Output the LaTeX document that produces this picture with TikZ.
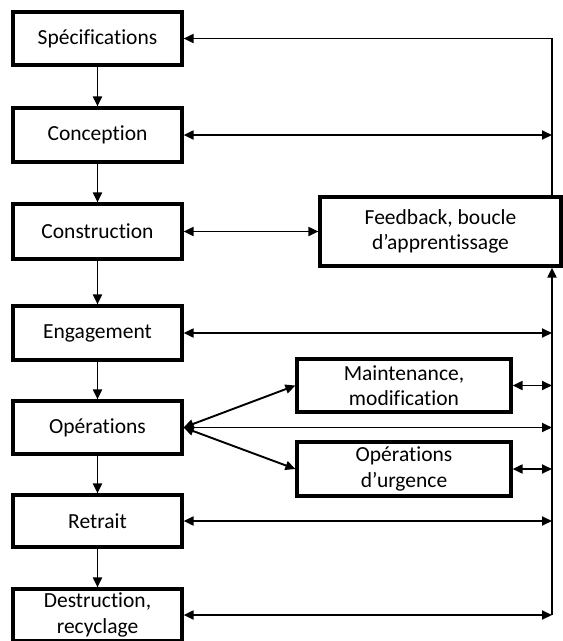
\documentclass[tikz,border=0pt]{standalone}
\usepackage{fontspec}
\setmainfont{Carlito}[Ligatures=NoCommon]
\usetikzlibrary{arrows.meta}
\begin{document}
\begin{tikzpicture}[x=1pt,y=-1pt,
  box/.style={draw,line width=3.2pt,inner sep=0pt,align=center,
    font=\fontsize{21.5}{25.5}\selectfont},
  lbox/.style={box,minimum width=169pt},
  con/.style={line width=1.9pt},
  one/.style={con,-{Triangle[length=10pt,width=9pt]}},
  two/.style={con,{Triangle[length=10pt,width=9pt]}-{Triangle[length=10pt,width=9pt]}}]
\useasboundingbox (0,0) rectangle (563,641);
\node[lbox,minimum height=53pt] (spec) at (97.5,38.5) {Spécifications};
\node[lbox,minimum height=54pt] (conc) at (97.5,135) {Conception};
\node[lbox,minimum height=55pt] (cons) at (97.5,231.5) {Construction};
\node[lbox,minimum height=54pt] (eng) at (97.5,333) {Engagement};
\node[lbox,minimum height=53pt] (ops) at (97.5,427.5) {Opérations};
\node[lbox,minimum height=52pt] (ret) at (97.5,521) {Retrait};
\node[lbox,minimum height=52pt] (des) at (97.5,615) {Destruction,\\recyclage};
\node[box,minimum width=241pt,minimum height=69pt] (fb) at (440.5,231.5) {Feedback, boucle\\d’apprentissage};
\node[box,minimum width=214pt,minimum height=53pt] (maint) at (404,385.5) {Maintenance,\\modification};
\node[box,minimum width=214pt,minimum height=54pt] (urg) at (404,469) {Opérations\\d’urgence};
\coordinate (vbot) at (552,615);
% vertical flow
\draw[one] (spec) -- (conc);
\draw[one] (conc) -- (cons);
\draw[one] (cons) -- (eng);
\draw[one] (eng) -- (ops);
\draw[one] (ops) -- (ret);
\draw[one] (ret) -- (des);
% feedback bus
\draw[one] (fb.north -| vbot) |- (spec.east);
\draw[one] (vbot) -- (fb.south -| vbot);
% horizontal links
\draw[two] (conc.east) -- (conc.east -| vbot);
\draw[two] (cons.east) -- (fb.west);
\draw[two] (eng.east) -- (eng.east -| vbot);
\draw[two] (ops.east) -- (ops.east -| vbot);
\draw[two] (ops.east) -- (maint.west);
\draw[two] (ops.east) -- (urg.west);
\draw[two] (maint.east) -- (maint.east -| vbot);
\draw[two] (urg.east) -- (urg.east -| vbot);
\draw[two] (ret.east) -- (ret.east -| vbot);
\draw[two] (des.east) -- (vbot);
\end{tikzpicture}
\end{document}
